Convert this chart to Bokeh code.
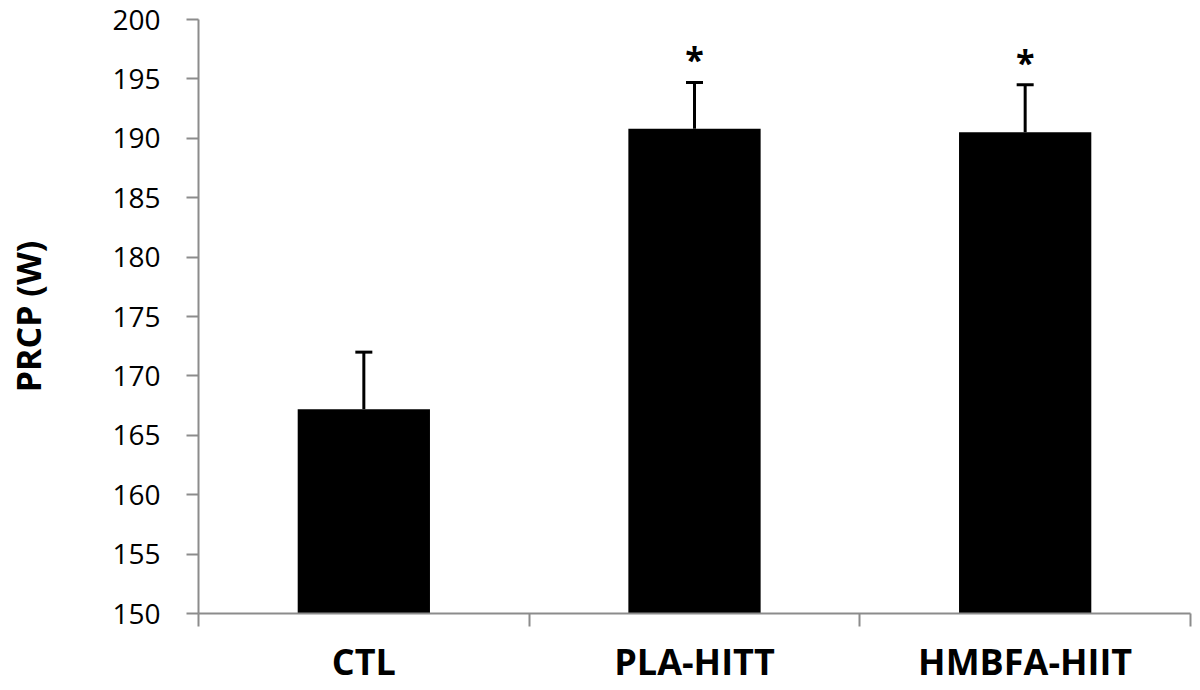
import numpy as np
from bokeh.plotting import figure
from bokeh.models import ColumnDataSource, Whisker, TeeHead, FixedTicker, Range1d
from bokeh.core.properties import value
from bokeh.embed import file_html
from bokeh.resources import INLINE

categories = ["CTL", "PLA-HITT", "HMBFA-HIIT"]
means = [167.2, 190.8, 190.5]
errors = [4.8, 3.9, 4.0]
significance = ["", "*", "*"]
y_ticks = [150, 155, 160, 165, 170, 175, 180, 185, 190, 195, 200]

xpos = [i + 0.5 for i in range(len(categories))]
upper = [m + e for m, e in zip(means, errors)]
src = ColumnDataSource(dict(x=xpos, top=means, upper=upper, sig=significance))

FONT = "Open Sans"
AXIS_COLOR = "#8c8c8c"

p = figure(width=1192, height=688, output_backend="svg", toolbar_location=None,
           x_range=Range1d(0, len(categories)), y_range=Range1d(150, 200),
           min_border_left=198, min_border_right=2, min_border_top=19, min_border_bottom=60)

p.vbar(x="x", top="top", bottom=150, width=0.4, source=src, fill_color="black", line_color=None)

w = Whisker(base="x", lower="top", upper="upper", source=src, line_color="black", line_width=3,
            upper_head=TeeHead(size=17, line_color="black", line_width=3), lower_head=None)
p.add_layout(w)

p.text(x="x", y="upper", text="sig", source=src, text_align="center", text_baseline="bottom",
       y_offset=0, text_font=value(FONT), text_font_size="34px", text_font_style="bold",
       text_color="black")

p.grid.visible = False
p.outline_line_color = None

# y axis
p.yaxis.ticker = FixedTicker(ticks=y_ticks)
p.yaxis.axis_line_color = AXIS_COLOR
p.yaxis.axis_line_width = 2
p.yaxis.major_tick_line_color = AXIS_COLOR
p.yaxis.major_tick_line_width = 2
p.yaxis.major_tick_in = 0
p.yaxis.major_tick_out = 12
p.yaxis.minor_tick_line_color = None
p.yaxis.major_label_text_font = FONT
p.yaxis.major_label_text_font_size = "28px"
p.yaxis.major_label_text_color = "black"
p.yaxis.major_label_standoff = 26
p.yaxis.axis_label = "PRCP (W)"
p.yaxis.axis_label_text_font = FONT
p.yaxis.axis_label_text_font_size = "34px"
p.yaxis.axis_label_text_font_style = "bold"
p.yaxis.axis_label_text_color = "black"
p.yaxis.axis_label_standoff = 58

# x axis
p.xaxis.ticker = FixedTicker(ticks=xpos, minor_ticks=list(range(len(categories) + 1)))
p.xaxis.major_label_overrides = {x: c for x, c in zip(xpos, categories)}
p.xaxis.axis_line_color = AXIS_COLOR
p.xaxis.axis_line_width = 2
p.xaxis.major_tick_line_color = None
p.xaxis.major_tick_in = 0
p.xaxis.major_tick_out = 0
p.xaxis.minor_tick_line_color = AXIS_COLOR
p.xaxis.minor_tick_line_width = 2
p.xaxis.minor_tick_in = 0
p.xaxis.minor_tick_out = 13
p.xaxis.major_label_text_font = FONT
p.xaxis.major_label_text_font_size = "36px"
p.xaxis.major_label_text_font_style = "bold"
p.xaxis.major_label_text_color = "black"
p.xaxis.major_label_standoff = 10

open("out.html", "w").write(file_html(p, INLINE))
